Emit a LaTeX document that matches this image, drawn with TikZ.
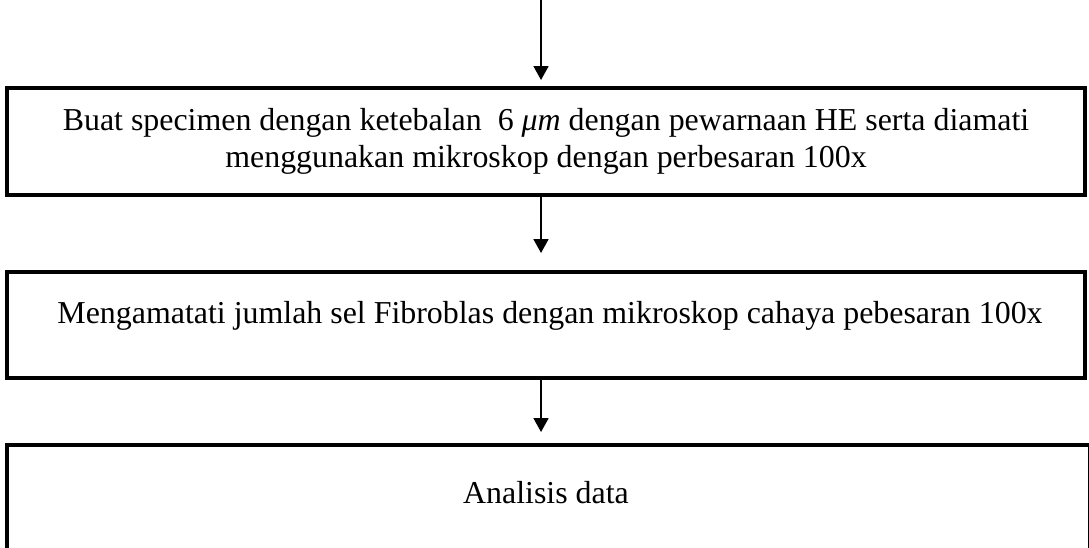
\documentclass[tikz,border=0pt]{standalone}
\usepackage{fontspec}
\setmainfont{Liberation Serif}
\usetikzlibrary{arrows.meta}
\begin{document}
\begin{tikzpicture}[x=1pt,y=-1pt,
  flowbox/.style={draw=black,line width=4.5pt,rectangle,inner sep=0pt},
  txt/.style={font=\fontsize{31.9}{37}\selectfont,inner sep=0pt,align=center},
  arr/.style={line width=1.8pt,-{Triangle[length=14pt,width=15pt]}}]
\useasboundingbox (0,0) rectangle (1089,547);
\fill[white] (0,0) rectangle (1089,547);
% boxes
\node[flowbox,minimum width=1078pt,minimum height=107pt] (b1) at (546,141.5) {};
\node[flowbox,minimum width=1078pt,minimum height=106pt] (b2) at (546,325) {};
\node[flowbox,minimum width=1083pt,minimum height=130pt] (b3) at (548.5,510) {};
% texts
\node[txt,anchor=base] (t1) at (546,167) {Buat specimen dengan ketebalan\ \ 6 \textit{μm} dengan pewarnaan HE serta diamati\\menggunakan mikroskop dengan perbesaran 100x};
\node[txt,anchor=base] (t2) at (550,323) {Mengamatati jumlah sel Fibroblas dengan mikroskop cahaya pebesaran 100x};
\node[txt,anchor=base] (t3) at (546,503) {Analisis data};
% arrows
\coordinate (top) at (541,0);
\draw[arr] (top) -- (541,80);
\draw[arr] (b1.south -| top) -- (541,253);
\draw[arr] (b2.south -| top) -- (541,432);
\end{tikzpicture}
\end{document}
